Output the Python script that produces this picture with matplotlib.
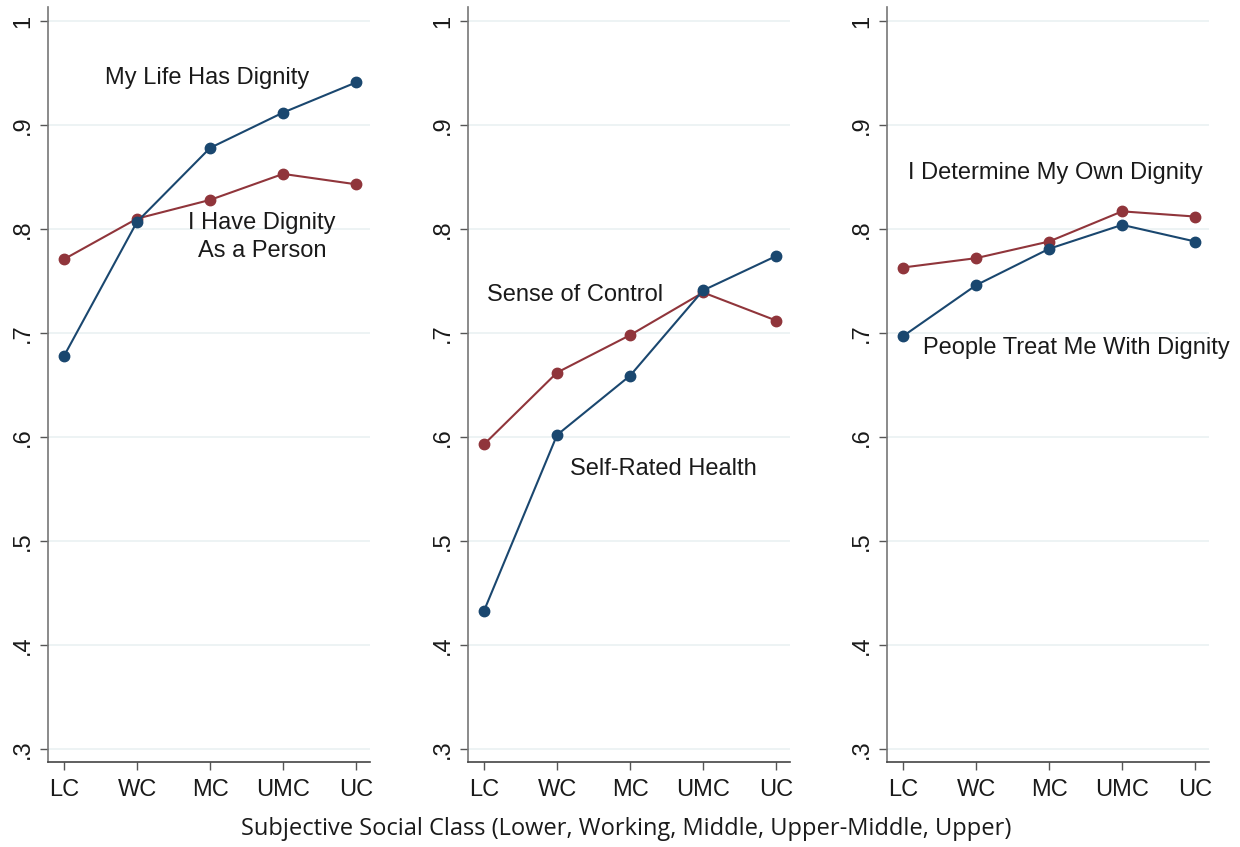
import matplotlib.pyplot as plt

# Data
classes = ['LC', 'WC', 'MC', 'UMC', 'UC']
x = list(range(len(classes)))

life_dignity = [0.678, 0.807, 0.878, 0.912, 0.941]
person_dignity = [0.771, 0.810, 0.828, 0.853, 0.843]

self_health = [0.433, 0.602, 0.659, 0.741, 0.774]
sense_control = [0.593, 0.662, 0.698, 0.739, 0.712]

treat_dignity = [0.697, 0.746, 0.781, 0.804, 0.788]
determine_dignity = [0.763, 0.772, 0.788, 0.817, 0.812]

yticks = [0.3, 0.4, 0.5, 0.6, 0.7, 0.8, 0.9, 1.0]
ytick_labels = ['.3', '.4', '.5', '.6', '.7', '.8', '.9', '1']

blue = '#1a476f'
red = '#90353b'
grid_col = '#eaf1f2'

plt.rcParams['font.family'] = ['Liberation Sans', 'DejaVu Sans']

fig = plt.figure(figsize=(12.4, 8.47), dpi=100)
fig.patch.set_facecolor('white')

lefts = [48 / 1240, 468 / 1240, 887 / 1240]
width = 322 / 1240
bottom = (847 - 762) / 847
height = (762 - 7) / 847

panels = [
    (life_dignity, person_dignity,
     [('My Life Has Dignity', 1.96, 0.945), ('I Have Dignity\nAs a Person', 2.71, 0.792)]),
    (self_health, sense_control,
     [('Sense of Control', 1.25, 0.737), ('Self-Rated Health', 2.46, 0.569)]),
    (treat_dignity, determine_dignity,
     [('I Determine My Own Dignity', 2.08, 0.854), ('People Treat Me With Dignity', 2.38, 0.686)]),
]

for left, (blue_vals, red_vals, labels) in zip(lefts, panels):
    ax = fig.add_axes([left, bottom, width, height])
    ax.set_xlim(-0.22, 4.19)
    ax.set_ylim(0.2875, 1.0135)
    for yv in yticks:
        ax.axhline(yv, color=grid_col, lw=1.2, zorder=0)
    ax.plot(x, red_vals, color=red, lw=1.5, marker='o', ms=7.5, zorder=3)
    ax.plot(x, blue_vals, color=blue, lw=1.5, marker='o', ms=7.5, zorder=3)

    ax.set_yticks(yticks)
    ax.set_yticklabels(ytick_labels, rotation=90, va='center', fontsize=17)
    ax.set_xticks(x)
    ax.set_xticklabels(classes, fontsize=17)
    ax.tick_params(axis='both', direction='out', length=6, width=1, color='#555555',
                   labelcolor='#1a1a1a', pad=6)
    ax.tick_params(axis='y', pad=4)

    for side in ['top', 'right']:
        ax.spines[side].set_visible(False)
    ax.spines['left'].set_color('#777777')
    ax.spines['bottom'].set_color('#444444')
    ax.spines['left'].set_linewidth(1.2)
    ax.spines['bottom'].set_linewidth(1.2)

    for txt, tx, ty in labels:
        ax.text(tx, ty, txt, ha='center', va='center', fontsize=17,
                color='#1a1a1a', linespacing=1.35, clip_on=False)

fig.text(0.505, 0.007, 'Subjective Social Class (Lower, Working, Middle, Upper-Middle, Upper)',
         ha='center', va='bottom', fontsize=17, family=['Open Sans', 'DejaVu Sans'],
         color='#1a1a1a')

fig.savefig('out.png', dpi=100)
